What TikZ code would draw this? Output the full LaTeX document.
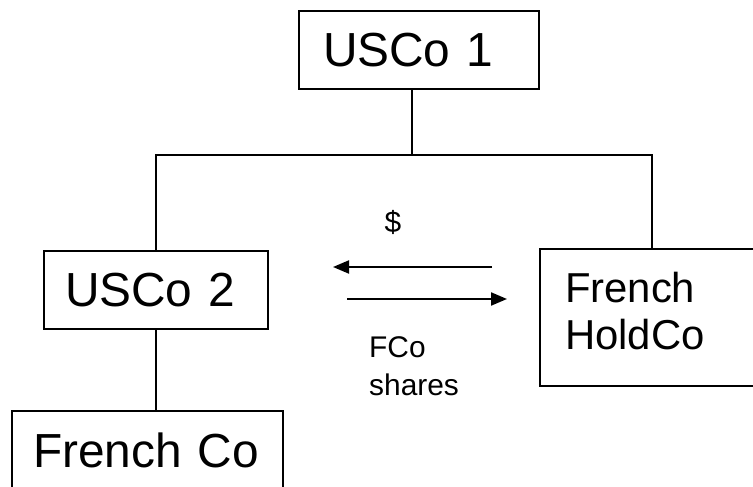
\documentclass[tikz,border=0pt]{standalone}
\usepackage{fontspec}
\setmainfont{Liberation Sans}
\usetikzlibrary{arrows.meta}
\begin{document}
\begin{tikzpicture}[x=1bp,y=-1bp,
  box/.style={draw, line width=2bp, anchor=north west, align=left,
              inner ysep=0pt, outer sep=0pt},
  conn/.style={line width=2bp},
  flow/.style={line width=2bp, -{Triangle[length=16bp,width=13bp]}},
  big/.style={font=\fontsize{48}{54}\selectfont},
  mid/.style={font=\fontsize{42}{47}\selectfont},
  small/.style={font=\fontsize{30}{38}\selectfont, inner sep=0pt}]
\useasboundingbox (0,0) rectangle (753,487);
\clip (0,0) rectangle (753,487);
% boxes
\node[box, big, inner xsep=24bp, text width=192bp, minimum height=78bp] (u1) at (299,11) {USCo 1};
\node[box, big, inner xsep=21bp, text width=182bp, minimum height=78bp] (u2) at (44,251) {USCo 2};
\node[box, big, inner xsep=21bp, text width=229bp, minimum height=79bp] (fc) at (12,411) {French Co};
\node[box, mid, inner xsep=25bp, text width=180bp, minimum height=137bp] (hc) at (540,249) {French\\HoldCo\rule[-14bp]{0pt}{0pt}};
% junction points
\coordinate (jm) at (412,155);
\coordinate (jl) at (156,155);
\coordinate (jr) at (652,155);
\draw[conn] (u1.south -| jm) -- (jm);
\draw[conn] (jl |- u2.north) -- (jl) -- (jr) -- (jr |- hc.north);
\draw[conn] (u2.south -| jl) -- (jl |- fc.north);
% arrows
\coordinate (a1s) at (492,267);
\coordinate (a1e) at (333,267);
\coordinate (a2s) at (347,299);
\coordinate (a2e) at (507,299);
\draw[flow] (a1s) -- (a1e);
\draw[flow] (a2s) -- (a2e);
% labels
\node[small, anchor=base] (dl) at (393,233) {\$};
\node[small, anchor=base west, align=left] (sl) at (369,395) {FCo\\shares};
\end{tikzpicture}
\end{document}
